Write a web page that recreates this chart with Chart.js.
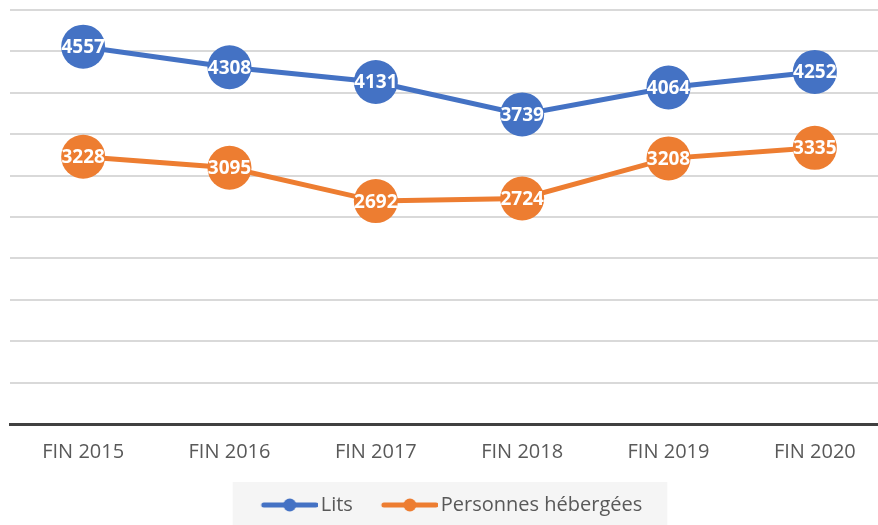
<!DOCTYPE html>
<html>
<head>
<meta charset="utf-8">
<script src="https://cdn.jsdelivr.net/npm/chart.js@4"></script>
<style>
    html, body { margin: 0; padding: 0; background: #fff; overflow: hidden; }
    #wrap { position: relative; width: 878px; height: 525px; overflow: hidden; }
    #chart { position: absolute; left: 0; top: 0; }
</style>
</head>
<body>
<div id="wrap"><canvas id="chart" width="890" height="525"></canvas></div>
<script>
const categories = ['FIN 2015', 'FIN 2016', 'FIN 2017', 'FIN 2018', 'FIN 2019', 'FIN 2020'];
const lits = [4557, 4308, 4131, 3739, 4064, 4252];
const personnes = [3228, 3095, 2692, 2724, 3208, 3335];
const seriesNames = ['Lits', 'Personnes hébergées'];

const BLUE = '#4472C4';
const ORANGE = '#ED7D31';
const FONT = "'Open Sans', sans-serif";

// "line with a dot" legend marker; drawn off-centre so the line sits close to the text
function legendMarker(color) {
    const c = document.createElement('canvas');
    c.width = 77;
    c.height = 14;
    const ctx = c.getContext('2d');
    ctx.strokeStyle = color;
    ctx.lineWidth = 5;
    ctx.lineCap = 'round';
    ctx.beginPath();
    ctx.moveTo(23, 7);
    ctx.lineTo(75, 7);
    ctx.stroke();
    ctx.fillStyle = color;
    ctx.beginPath();
    ctx.arc(49, 7, 6.5, 0, Math.PI * 2);
    ctx.fill();
    return c;
}

// white numbers inside the points
const valueLabels = {
    id: 'valueLabels',
    afterDatasetsDraw(chart) {
        const ctx = chart.ctx;
        ctx.save();
        ctx.font = 'bold 19px ' + FONT;
        ctx.fillStyle = '#ffffff';
        ctx.textAlign = 'center';
        ctx.textBaseline = 'middle';
        chart.data.datasets.forEach((ds, i) => {
            const meta = chart.getDatasetMeta(i);
            meta.data.forEach((pt, j) => {
                ctx.fillText(String(ds.data[j]), pt.x, pt.y + 1);
            });
        });
        ctx.restore();
    }
};

// light grey panel behind the legend
const legendPanel = {
    id: 'legendPanel',
    beforeDraw(chart) {
        const boxes = chart.legend && chart.legend.legendHitBoxes;
        if (!boxes || !boxes.length) {
            return;
        }
        let left = Infinity, right = -Infinity, top = Infinity;
        boxes.forEach((b) => {
            left = Math.min(left, b.left);
            right = Math.max(right, b.left + b.width);
            top = Math.min(top, b.top);
        });
        const ctx = chart.ctx;
        ctx.save();
        ctx.fillStyle = '#f5f5f5';
        ctx.fillRect(left - 15, top - 13, right - left + 40, chart.height);
        ctx.restore();
    }
};

new Chart(document.getElementById('chart'), {
    type: 'line',
    data: {
        labels: categories,
        datasets: [
            {
                label: seriesNames[0],
                data: lits,
                borderColor: BLUE,
                backgroundColor: BLUE,
                borderWidth: 5,
                pointRadius: 22,
                pointHoverRadius: 22,
                pointBorderWidth: 0,
                pointStyle: 'circle',
                tension: 0
            },
            {
                label: seriesNames[1],
                data: personnes,
                borderColor: ORANGE,
                backgroundColor: ORANGE,
                borderWidth: 5,
                pointRadius: 22,
                pointHoverRadius: 22,
                pointBorderWidth: 0,
                pointStyle: 'circle',
                tension: 0
            }
        ]
    },
    options: {
        responsive: false,
        animation: false,
        devicePixelRatio: 1,
        layout: {
            autoPadding: false,
            padding: {top: 10, left: 2, right: 2, bottom: 0}
        },
        plugins: {
            tooltip: {enabled: false},
            legend: {
                position: 'bottom',
                labels: {
                    usePointStyle: true,
                    pointStyleWidth: 63,
                    boxHeight: 14,
                    padding: 15,
                    color: '#595959',
                    font: {family: FONT, size: 20},
                    generateLabels(chart) {
                        return chart.data.datasets.map((ds, i) => ({
                            text: ds.label,
                            fillStyle: ds.borderColor,
                            strokeStyle: ds.borderColor,
                            fontColor: '#595959',
                            lineWidth: 0,
                            pointStyle: legendMarker(ds.borderColor),
                            hidden: false,
                            datasetIndex: i
                        }));
                    }
                }
            }
        },
        scales: {
            x: {
                offset: true,
                grid: {display: false, drawTicks: false, offset: true},
                border: {display: true, color: '#404040', width: 3},
                ticks: {
                    color: '#595959',
                    padding: 16,
                    font: {family: FONT, size: 20}
                }
            },
            y: {
                min: 0,
                max: 5000,
                ticks: {stepSize: 500, display: false},
                grid: {color: '#d9d9d9', lineWidth: 2, drawTicks: false},
                border: {display: false},
                // empty strip on the left, so the legend sits a bit left of the plot centre
                afterFit(scale) {
                    scale.width = 8;
                }
            }
        }
    },
    plugins: [legendPanel, valueLabels]
});
</script>
</body>
</html>
